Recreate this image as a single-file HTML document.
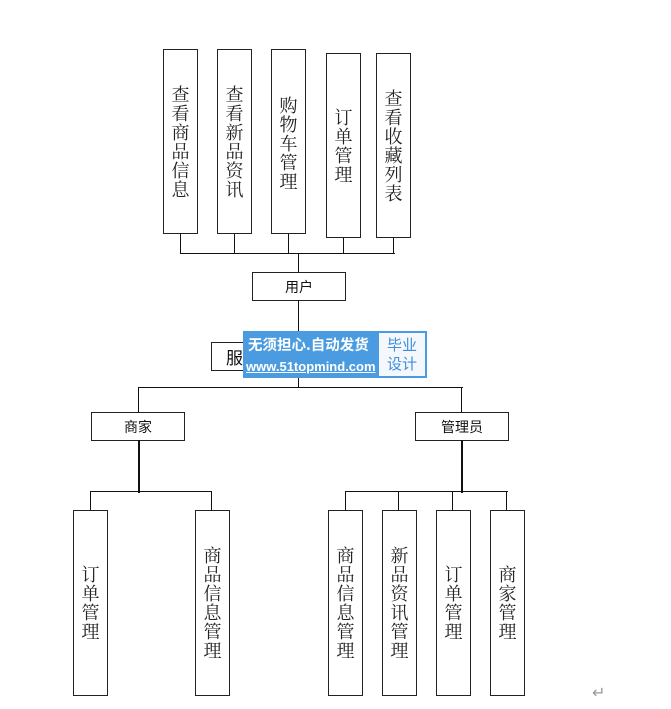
<!DOCTYPE html>
<html><head><meta charset="utf-8"><style>
body{margin:0;background:#fff;width:671px;height:709px;overflow:hidden;position:relative;font-family:"Liberation Sans","Noto Sans CJK SC",sans-serif;}
.b{position:absolute;border:1.2px solid #222;box-sizing:border-box;background:#fff;}
.v{display:flex;align-items:center;justify-content:center;flex-direction:column;font-size:18px;line-height:19px;color:#222;text-align:center;width:100%;height:100%;font-family:"Noto Serif CJK SC","Noto Sans CJK SC",serif;}
.h{display:flex;align-items:center;justify-content:center;font-size:14px;color:#111;height:100%;}
.l{position:absolute;background:#111;}
</style></head><body>
<div class="b" style="left:163px;top:49px;width:35px;height:185px"><div class="v">查<br>看<br>商<br>品<br>信<br>息</div></div>
<div class="b" style="left:217px;top:49px;width:35px;height:185px"><div class="v">查<br>看<br>新<br>品<br>资<br>讯</div></div>
<div class="b" style="left:271px;top:49px;width:35px;height:185px"><div class="v" style="justify-content:flex-start;padding-top:46px;box-sizing:border-box">购<br>物<br>车<br>管<br>理</div></div>
<div class="b" style="left:326px;top:53px;width:35px;height:185px"><div class="v">订<br>单<br>管<br>理</div></div>
<div class="b" style="left:376px;top:53px;width:35px;height:185px"><div class="v">查<br>看<br>收<br>藏<br>列<br>表</div></div>
<div class="l" style="left:180px;top:234px;width:1.2px;height:20px"></div>
<div class="l" style="left:234px;top:234px;width:1.2px;height:20px"></div>
<div class="l" style="left:288px;top:234px;width:1.2px;height:20px"></div>
<div class="l" style="left:343px;top:238px;width:1.2px;height:16px"></div>
<div class="l" style="left:393px;top:238px;width:1.2px;height:16px"></div>
<div class="l" style="left:180px;top:253px;width:215px;height:1.2px"></div>
<div class="l" style="left:298px;top:253px;width:1.2px;height:20px"></div>
<div class="b" style="left:252px;top:272px;width:94px;height:29px"><div class="h">用户</div></div>
<div class="l" style="left:298px;top:300px;width:1.2px;height:88px"></div>
<div class="b" style="left:211px;top:342px;width:94px;height:29px"><div class="h" style="justify-content:flex-start;padding-left:14px;font-size:17px">服</div></div>
<div style="position:absolute;left:243px;top:331px;width:184px;height:47px;background:#4b9be0;"></div>
<div style="position:absolute;left:248px;top:336px;color:#fff;font-size:14.5px;font-weight:bold;font-family:'Noto Sans CJK SC',sans-serif;line-height:18px">无须担心.自动发货</div>
<div style="position:absolute;left:246px;top:359px;color:#fff;font-size:13px;font-weight:bold;text-decoration:underline;line-height:16px">www.51topmind.com</div>
<div style="position:absolute;left:379px;top:333px;width:46px;height:43px;background:#f4f8fc;color:#3d8fdc;font-size:15px;line-height:19px;text-align:center;font-family:'Noto Sans CJK SC',sans-serif;padding-top:2px;box-sizing:border-box">毕业<br>设计</div>
<div class="l" style="left:138px;top:387px;width:325px;height:1.2px"></div>
<div class="l" style="left:138px;top:387px;width:1.2px;height:26px"></div>
<div class="l" style="left:461px;top:387px;width:1.2px;height:26px"></div>
<div class="b" style="left:91px;top:412px;width:94px;height:29px"><div class="h">商家</div></div>
<div class="b" style="left:415px;top:412px;width:94px;height:29px"><div class="h">管理员</div></div>
<div class="l" style="left:138px;top:440px;width:1.5px;height:53px"></div>
<div class="l" style="left:90px;top:491px;width:122px;height:1.2px"></div>
<div class="l" style="left:90px;top:491px;width:1.2px;height:20px"></div>
<div class="l" style="left:211px;top:491px;width:1.2px;height:20px"></div>
<div class="l" style="left:461px;top:440px;width:2px;height:53px"></div>
<div class="l" style="left:345px;top:491px;width:163px;height:1.2px"></div>
<div class="l" style="left:345px;top:491px;width:1.2px;height:20px"></div>
<div class="l" style="left:398px;top:491px;width:1.2px;height:20px"></div>
<div class="l" style="left:452px;top:491px;width:1.2px;height:20px"></div>
<div class="l" style="left:506px;top:491px;width:1.2px;height:20px"></div>
<div class="b" style="left:73px;top:510px;width:35px;height:186px"><div class="v">订<br>单<br>管<br>理</div></div>
<div class="b" style="left:195px;top:510px;width:35px;height:186px"><div class="v">商<br>品<br>信<br>息<br>管<br>理</div></div>
<div class="b" style="left:328px;top:510px;width:35px;height:186px"><div class="v">商<br>品<br>信<br>息<br>管<br>理</div></div>
<div class="b" style="left:382px;top:510px;width:35px;height:186px"><div class="v">新<br>品<br>资<br>讯<br>管<br>理</div></div>
<div class="b" style="left:436px;top:510px;width:35px;height:186px"><div class="v">订<br>单<br>管<br>理</div></div>
<div class="b" style="left:490px;top:510px;width:35px;height:186px"><div class="v">商<br>家<br>管<br>理</div></div>
<div style="position:absolute;left:592px;top:683px;color:#999;font-size:16px;font-family:'DejaVu Sans',sans-serif">↵</div>
</body></html>
